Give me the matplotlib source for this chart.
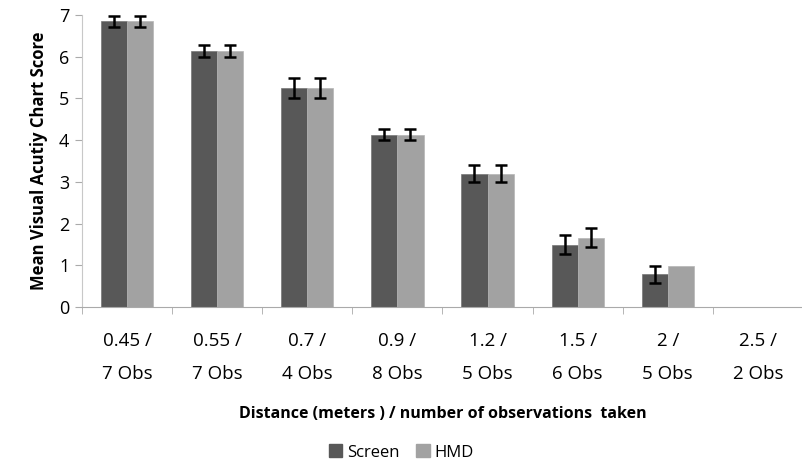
import numpy as np
import matplotlib
matplotlib.use("Agg")
import matplotlib.pyplot as plt
from matplotlib.patches import Patch

# data
categories = ["0.45 /\n7 Obs", "0.55 /\n7 Obs", "0.7 /\n4 Obs", "0.9 /\n8 Obs",
              "1.2 /\n5 Obs", "1.5 /\n6 Obs", "2 /\n5 Obs", "2.5 /\n2 Obs"]
screen = [6.85, 6.14, 5.25, 4.13, 3.2, 1.49, 0.78, 0]
screen_err = [0.13, 0.15, 0.25, 0.13, 0.2, 0.23, 0.2, 0]
hmd = [6.85, 6.14, 5.25, 4.13, 3.2, 1.66, 0.98, 0]
hmd_err = [0.13, 0.15, 0.25, 0.13, 0.2, 0.23, 0, 0]

plt.rcParams['font.family'] = ['Open Sans', 'DejaVu Sans']

fig = plt.figure(figsize=(8.03, 4.68), dpi=100)
ax = fig.add_axes([0.102, 0.344, 0.898, 0.624])

x = np.arange(len(categories))
w = 0.29
dark = "#585858"
light = "#a2a2a2"

err_kw = dict(ecolor="black", elinewidth=1.8, capsize=4, capthick=1.8)
ax.bar(x - w / 2, screen, w, color=dark, edgecolor="#777777", linewidth=0.5,
       yerr=[e if e > 0 else np.nan for e in screen_err], error_kw=err_kw)
ax.bar(x + w / 2, hmd, w, color=light, edgecolor="#b5b5b5", linewidth=0.5,
       yerr=[e if e > 0 else np.nan for e in hmd_err], error_kw=err_kw)

ax.set_xlim(-0.5, len(categories) - 0.5)
ax.set_ylim(0, 7)
ax.set_yticks(range(8))

ax.set_xticks(x)
ax.set_xticklabels(categories, fontsize=13.5, linespacing=2.1)
ax.set_xticks(np.arange(-0.5, len(categories), 1), minor=True)
ax.tick_params(axis='x', which='major', length=0, pad=18)
ax.tick_params(axis='x', which='minor', length=5, color="#aaaaaa")
ax.tick_params(axis='y', labelsize=13, length=5, color="#aaaaaa", pad=4)

for s in ["top", "right"]:
    ax.spines[s].set_visible(False)
ax.spines["left"].set_color("#c8c8c8")
ax.spines["bottom"].set_color("#aaaaaa")

ax.set_ylabel("Mean Visual Acutiy Chart Score", fontsize=12, fontweight="bold", labelpad=8)
ax.set_xlabel("Distance (meters ) / number of observations  taken", fontsize=11.5,
              fontweight="bold", labelpad=16)

handles = [Patch(color=dark, label="Screen"), Patch(color=light, label="HMD")]
fig.legend(handles=handles, loc="center", bbox_to_anchor=(0.5, 0.033), ncol=2,
           frameon=False, fontsize=12, handlelength=0.8, handleheight=0.8,
           handletextpad=0.3, columnspacing=1.0)

fig.savefig("out.png", dpi=100)
